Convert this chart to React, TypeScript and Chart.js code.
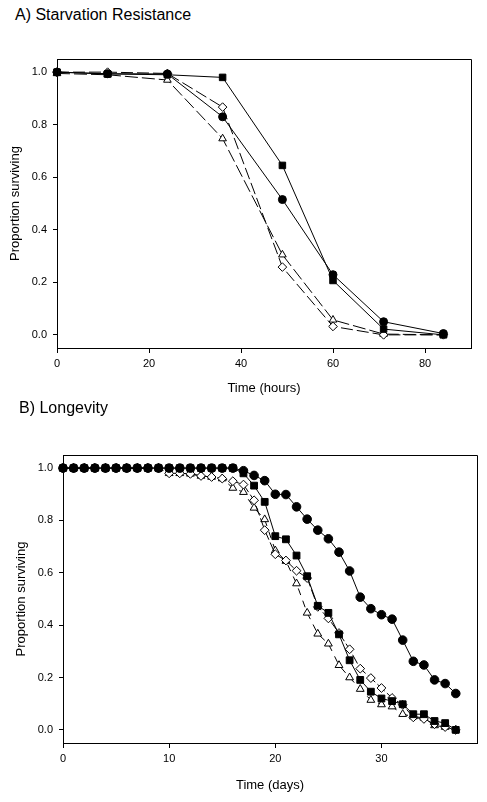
import React, { useEffect, useRef } from "react";
import { Chart, registerables } from "chart.js";

Chart.register(...registerables);
Chart.defaults.font.family = "'Liberation Sans', Arial, sans-serif";
Chart.defaults.color = "#000";

// ---------- Panel A: Starvation resistance ----------
const hoursA = [0, 11, 24, 36, 49, 60, 71, 84];
const squaresA = [1.0, 0.993, 0.99, 0.98, 0.645, 0.207, 0.022, 0.0];
const circlesA = [1.0, 0.994, 0.993, 0.83, 0.515, 0.229, 0.05, 0.005];
const diamondsA = [1.0, 1.0, 0.995, 0.867, 0.258, 0.032, 0.0, 0.0];
const trianglesA = [0.995, 0.99, 0.97, 0.747, 0.305, 0.057, 0.003, 0.0];
const xTicksA = [0, 20, 40, 60, 80];

// ---------- Panel B: Longevity ----------
const daysB = [
  0, 1, 2, 3, 4, 5, 6, 7, 8, 9, 10, 11, 12, 13, 14, 15, 16, 17, 18, 19,
  20, 21, 22, 23, 24, 25, 26, 27, 28, 29, 30, 31, 32, 33, 34, 35, 36, 37,
];
const circlesB = [
  1.0, 1.0, 1.0, 1.0, 1.0, 1.0, 1.0, 1.0, 1.0, 1.0, 1.0, 1.0, 1.0, 1.0, 1.0, 1.0, 1.0,
  0.99, 0.972, 0.952, 0.9, 0.899, 0.852, 0.805, 0.763, 0.73, 0.679, 0.607, 0.507, 0.463,
  0.44, 0.423, 0.343, 0.262, 0.248, 0.191, 0.177, 0.139,
];
const squaresB = [
  1.0, 1.0, 1.0, 1.0, 1.0, 1.0, 1.0, 1.0, 1.0, 1.0, 1.0, 1.0, 1.0, 1.0, 1.0, 1.0, 1.0,
  0.98, 0.933, 0.871, 0.74, 0.728, 0.666, 0.587, 0.474, 0.447, 0.365, 0.266, 0.191, 0.146,
  0.12, 0.11, 0.098, 0.06, 0.06, 0.034, 0.026, 0.0,
];
const diamondsB = [
  1.0, 1.0, 1.0, 1.0, 1.0, 1.0, 1.0, 1.0, 1.0, 1.0, 0.98, 0.98, 0.978, 0.97, 0.966, 0.96,
  0.95, 0.937, 0.877, 0.763, 0.671, 0.647, 0.608, 0.58, 0.47, 0.426, 0.37, 0.308, 0.234,
  0.198, 0.16, 0.122, 0.096, 0.048, 0.042, 0.022, 0.011, 0.0,
];
const trianglesB = [
  1.0, 1.0, 1.0, 1.0, 1.0, 1.0, 1.0, 1.0, 1.0, 1.0, 0.98, 0.98, 0.978, 0.97, 0.966, 0.96,
  0.924, 0.908, 0.848, 0.804, 0.685, 0.645, 0.559, 0.447, 0.367, 0.329, 0.247, 0.2, 0.156,
  0.114, 0.097, 0.089, 0.06, 0.051, 0.046, 0.017, 0.011, 0.0,
];
const xTicksB = [0, 10, 20, 30];
const yTicks = [0, 0.2, 0.4, 0.6, 0.8, 1.0];

const pts = (xs: number[], ys: number[]) => xs.map((x, i) => ({ x, y: ys[i] }));

const framePlugin = {
  id: "frame",
  beforeDatasetsDraw(chart: any) {
    const { ctx, chartArea } = chart;
    const { left, top, right, bottom } = chartArea;
    ctx.save();
    ctx.strokeStyle = "#000";
    ctx.lineWidth = 1;
    ctx.beginPath();
    const t = Math.round(top) + 0.5;
    const r = Math.round(right) + 0.5;
    ctx.moveTo(Math.round(left), t);
    ctx.lineTo(r, t);
    ctx.lineTo(r, Math.round(bottom));
    ctx.stroke();
    ctx.restore();
  },
};

type PanelProps = {
  width: number;
  height: number;
  padTop: number;
  padRight: number;
  yWidth: number;
  xHeight: number;
  xMax: number;
  xTicks: number[];
  xTitle: string;
  xTitlePad: number;
  yTitlePad: number;
  datasets: any[];
};

function Panel(p: PanelProps) {
  const ref = useRef<HTMLCanvasElement | null>(null);
  useEffect(() => {
    if (!ref.current) return;
    const chart = new Chart(ref.current, {
      type: "line",
      data: { datasets: p.datasets },
      plugins: [framePlugin],
      options: {
        animation: false,
        responsive: false,
        devicePixelRatio: 1,
        layout: { padding: { top: p.padTop, right: p.padRight, left: 0, bottom: 0 } },
        plugins: { legend: { display: false }, tooltip: { enabled: false }, title: { display: false } },
        scales: {
          x: {
            type: "linear",
            min: 0,
            max: p.xMax,
            afterBuildTicks: (s: any) => {
              s.ticks = p.xTicks.map((v) => ({ value: v }));
            },
            afterFit: (s: any) => {
              s.height = p.xHeight;
            },
            grid: { drawOnChartArea: false, drawTicks: true, tickLength: 5, color: "#000", tickColor: "#000" },
            border: { display: true, color: "#000", width: 1 },
            ticks: { color: "#000", font: { size: 11 }, padding: 4, maxRotation: 0, autoSkip: false },
            title: {
              display: true,
              text: p.xTitle,
              color: "#000",
              font: { size: 13 },
              padding: { top: 0, bottom: p.xTitlePad },
            },
          },
          y: {
            type: "linear",
            min: -0.05,
            max: 1.05,
            afterBuildTicks: (s: any) => {
              s.ticks = yTicks.map((v) => ({ value: v }));
            },
            afterFit: (s: any) => {
              s.width = p.yWidth;
            },
            grid: { drawOnChartArea: false, drawTicks: true, tickLength: 4, color: "#000", tickColor: "#000" },
            border: { display: true, color: "#000", width: 1 },
            ticks: {
              color: "#000",
              font: { size: 11 },
              padding: 6,
              callback: (v: any) => Number(v).toFixed(1),
            },
            title: {
              display: true,
              text: "Proportion surviving",
              color: "#000",
              font: { size: 13 },
              padding: { top: p.yTitlePad, bottom: 0 },
            },
          },
        },
      },
    } as any);
    return () => chart.destroy();
  }, []);
  return <canvas ref={ref} width={p.width} height={p.height} style={{ display: "block" }} />;
}

const mk = (
  label: string,
  data: { x: number; y: number }[],
  style: string,
  radius: number,
  filled: boolean,
  dash: number[]
) => ({
  label,
  data,
  pointStyle: style,
  pointRadius: radius,
  pointBorderWidth: 1,
  pointBackgroundColor: filled ? "#000" : "#fff",
  pointBorderColor: "#000",
  borderColor: "#000",
  borderWidth: 1,
  borderDash: dash,
  tension: 0,
  fill: false,
  clip: false,
});

export default function App() {
  const dsA = [
    mk("circles", pts(hoursA, circlesA), "circle", 4, true, []),
    mk("squares", pts(hoursA, squaresA), "rect", 4.6, true, []),
    mk("diamonds", pts(hoursA, diamondsA), "rectRot", 4.3, false, [12, 4]),
    mk("triangles", pts(hoursA, trianglesA), "triangle", 4.4, false, [13, 4]),
  ];
  const dsB = [
    mk("circles", pts(daysB, circlesB), "circle", 4.3, true, []),
    mk("squares", pts(daysB, squaresB), "rect", 4.8, true, []),
    mk("diamonds", pts(daysB, diamondsB), "rectRot", 4.4, false, [10, 3]),
    mk("triangles", pts(daysB, trianglesB), "triangle", 4.5, false, [7, 6]),
  ];
  const titleStyle: React.CSSProperties = {
    position: "absolute",
    fontFamily: "'Liberation Sans', Arial, sans-serif",
    fontSize: 16,
    lineHeight: "16px",
    color: "#000",
    whiteSpace: "nowrap",
  };
  return (
    <div style={{ position: "absolute", left: 0, top: 0, width: 487, height: 802, background: "#fff" }}>
      <div style={{ ...titleStyle, left: 15, top: 7 }}>A) Starvation Resistance</div>
      <div style={{ position: "absolute", left: 0, top: 0 }}>
        <Panel
          width={487}
          height={400}
          padTop={59}
          padRight={16}
          yWidth={57}
          xHeight={52}
          xMax={90}
          xTicks={xTicksA}
          xTitle="Time (hours)"
          xTitlePad={4}
          yTitlePad={8}
          datasets={dsA}
        />
      </div>
      <div style={{ ...titleStyle, left: 19, top: 400 }}>B) Longevity</div>
      <div style={{ position: "absolute", left: 0, top: 400 }}>
        <Panel
          width={487}
          height={402}
          padTop={55}
          padRight={10}
          yWidth={63}
          xHeight={59}
          xMax={39}
          xTicks={xTicksB}
          xTitle="Time (days)"
          xTitlePad={9}
          yTitlePad={14}
          datasets={dsB}
        />
      </div>
    </div>
  );
}
